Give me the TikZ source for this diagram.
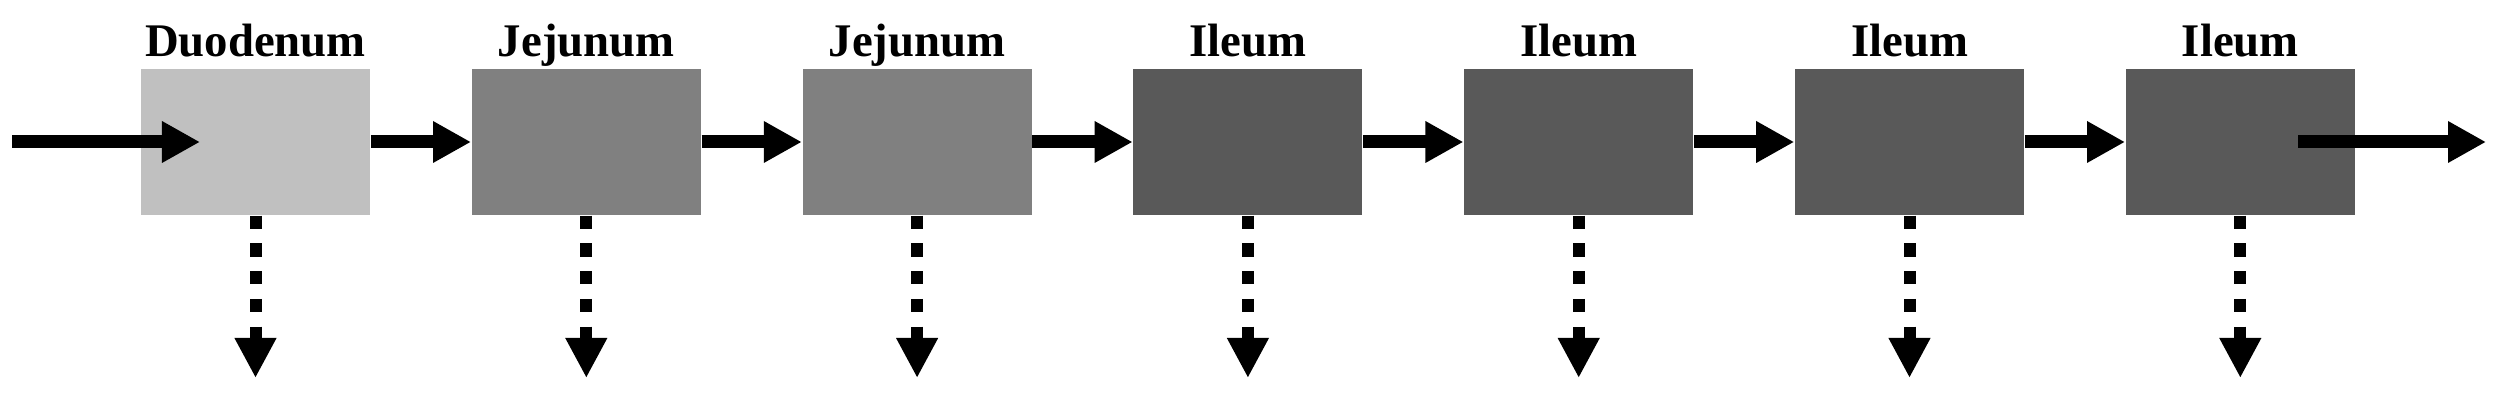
\documentclass[tikz,border=0pt]{standalone}
\usepackage{fontspec}
\setmainfont{Liberation Serif}
\usetikzlibrary{arrows.meta}
\definecolor{cLight}{RGB}{192,192,192}
\definecolor{cMid}{RGB}{128,128,128}
\definecolor{cDark}{RGB}{89,89,89}
\tikzset{
  segbox/.style={rectangle, inner sep=0pt, minimum width=2.29cm, minimum height=1.46cm},
  seglabel/.style={anchor=base, inner sep=0pt, font=\fontsize{13.3}{16}\selectfont\bfseries},
  flowarrow/.style={line width=0.13cm, -{Triangle[length=0.38cm,width=0.39cm]}},
  lossarrow/.style={line width=0.12cm, dash pattern=on 0.133cm off 0.144cm, -{Triangle[length=0.40cm,width=0.39cm]}}
}
\begin{document}
\begin{tikzpicture}[x=0.01cm,y=-0.01cm]
\useasboundingbox (0,0) rectangle (2500,401);
\foreach \i/\c/\t in {1/cLight/Duodenum,2/cMid/Jejunum,3/cMid/Jejunum,4/cDark/Ileum,5/cDark/Ileum,6/cDark/Ileum,7/cDark/Ileum}{
  \node[segbox, fill=\c] (b\i) at ({255.5+(\i-1)*330.8},142) {};
  \node[seglabel] (l\i) at ({255.5+(\i-1)*330.8},57) {\t};
  \coordinate (d\i) at ({255.5+(\i-1)*330.8},378);
}
\foreach \i/\j in {1/2,2/3,3/4,4/5,5/6,6/7}{
  \draw[flowarrow] (b\i.east) -- (b\j.west);
}
\foreach \i in {1,...,7}{
  \draw[lossarrow] (b\i.south) -- (d\i);
}
\coordinate (inS) at (12,142);
\coordinate (inE) at (200,142);
\draw[flowarrow] (inS) -- (inE);
\coordinate (outS) at (2298,142);
\coordinate (outE) at (2486,142);
\draw[flowarrow] (outS) -- (outE);
\end{tikzpicture}
\end{document}
